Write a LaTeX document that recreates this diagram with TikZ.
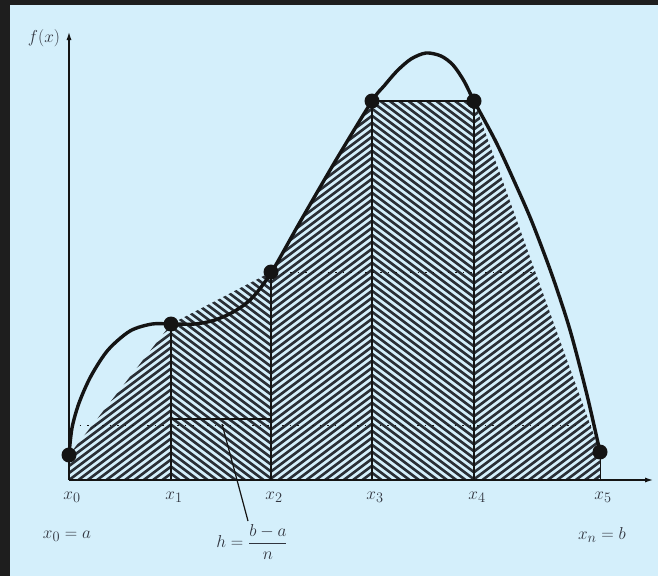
\documentclass[tikz,border=0pt]{standalone}
\usepackage{fontspec}
\usetikzlibrary{arrows.meta}
\definecolor{bgc}{HTML}{D4EFFB}
\definecolor{framec}{HTML}{1E1E1E}
\definecolor{ink}{HTML}{141414}
\definecolor{hatchc}{HTML}{2A2F36}
\definecolor{labc}{HTML}{30343E}
\newcommand\hatchpanel[6]{% xl, xr, yl, yr, dir, offset
  \begin{scope}
    \clip (#1,480) -- (#1,#3) -- (#2,#4) -- (#2,480) -- cycle;
    \pgfmathsetmacro\hdy{#5*112.5}
    \foreach \j in {-25,...,85}{
      \pgfmathsetmacro\yy{480-(\j)*7+(#6)-(#5)*2.25}
      \draw[hatch] (#1-3,\yy) -- ++(150,\hdy);
    }
  \end{scope}}
\begin{document}
\begin{tikzpicture}[x=1pt,y=-1pt,
  hatch/.style={line width=2.6pt, draw=hatchc},
  curve/.style={line width=3.4pt, draw=ink, line join=round, line cap=round},
  axis/.style={line width=1.8pt, draw=ink},
  vline/.style={line width=1.8pt, draw=ink},
  dashline/.style={line width=0.7pt, draw=ink, dash pattern=on 1.5pt off 6pt},
  dot/.style={circle, fill=ink, inner sep=0pt, minimum size=15pt},
  lab/.style={text=labc, font=\fontsize{19}{22}\selectfont, inner sep=1pt}]
\useasboundingbox (0,0) rectangle (658,576);
\fill[framec] (0,0) rectangle (658,576);
\fill[bgc] (10,5) rectangle (658,576);

% hatching
\hatchpanel{69}{171}{455}{324}{-1}{0}
\hatchpanel{171}{271}{324}{272}{1}{0.5}
\hatchpanel{271}{372}{272}{101}{-1}{-1.5}
\hatchpanel{372}{474}{101}{101}{1}{-0.25}
\hatchpanel{474}{600}{101}{452}{-1}{-0.75}

% faint dashed guide lines
\draw[dashline] (72,425) -- (590,425);
\draw[dashline] (275,272) -- (535,272);

% axes
\coordinate (O) at (69,480);
\coordinate (xend) at (654,480);
\coordinate (yend) at (69,31);
\draw[axis,-{Latex[length=9pt,width=5pt]}] (O) -- (xend);
\draw[axis,-{Latex[length=9pt,width=5pt]}] (O) -- (yend);

% base points
\coordinate (X1) at (171,480);
\coordinate (X2) at (271,480);
\coordinate (X3) at (372,480);
\coordinate (X4) at (474,480);
\coordinate (X5) at (600,480);

% dots
\node[dot] (P0) at (69,455) {};
\node[dot] (P1) at (171,324) {};
\node[dot] (P2) at (271,272) {};
\node[dot] (P3) at (372,101) {};
\node[dot] (P4) at (474,101) {};
\node[dot] (P5) at (600,452) {};

% verticals and tops
\draw[vline] (X1) -- (P1.center);
\draw[vline] (X2) -- (P2.center);
\draw[vline] (X3) -- (P3.center);
\draw[vline] (X4) -- (P4.center);
\draw[line width=0.8pt, draw=ink] (X5) -- (P5.center);
\draw[line width=1.2pt, draw=ink] (P3.center) -- (P4.center);

% h marker
\coordinate (H1) at (171,419);
\coordinate (H2) at (271,419);
\draw[line width=1.5pt, draw=ink] (H1) -- (H2);

% curve
\draw[curve] plot[smooth, tension=0.5] coordinates {
 (69,455) (72,428) (79,403) (91,376) (108,350) (130,331) (152,324) (171,324)
 (195,324) (215,320) (235,311) (252,298) (271,273) (300,222) (336,160) (372,101)
 (384,86) (397,71) (411,59) (426,53) (441,56) (453,65) (464,81) (474,101)
 (496,142) (515,183) (532,222) (552,275) (570,330) (587,395) (600,452)};

% labels
\node[lab] (fx) at (44,38) {$f(x)$};
\node[lab] (l0) at (72,497) {$x_0$};
\node[lab] (l1) at (174,497) {$x_1$};
\node[lab] (l2) at (274,497) {$x_2$};
\node[lab] (l3) at (375,497) {$x_3$};
\node[lab] (l4) at (477,497) {$x_4$};
\node[lab] (l5) at (603,497) {$x_5$};
\node[lab] (xa) at (67,536) {$x_0 = a$};
\node[lab] (xb) at (602,535) {$x_n = b$};
\node[lab] (hl) at (252,542) {$h = \displaystyle\frac{b-a}{n}$};

% leader
\coordinate (L1) at (222,424);
\coordinate (L2) at (248,521);
\draw[line width=1.2pt, draw=ink] (L1) -- (L2);
\end{tikzpicture}
\end{document}
